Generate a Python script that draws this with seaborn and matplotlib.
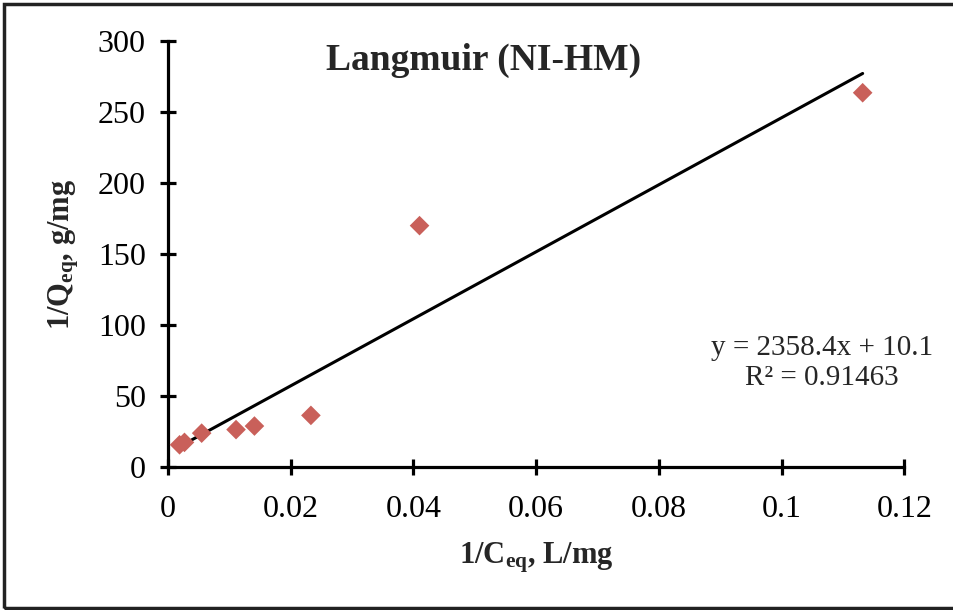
import numpy as np
import pandas as pd
import matplotlib
matplotlib.use("Agg")
import matplotlib.pyplot as plt
from matplotlib.patches import Rectangle
import seaborn as sns

# Langmuir linearisation data: 1/Ceq (L/mg) vs 1/Qeq (g/mg)
inv_ceq = [0.0019, 0.0027, 0.0055, 0.0111, 0.0141, 0.0233, 0.0410, 0.1132]
inv_qeq = [15.8, 17.5, 24.0, 26.5, 29.0, 36.5, 170.0, 263.5]

# Linear trendline reported on the chart
slope = 2358.4
intercept = 10.1
r_squared = 0.91463

x_ticks = [0, 0.02, 0.04, 0.06, 0.08, 0.1, 0.12]
x_tick_labels = ["0", "0.02", "0.04", "0.06", "0.08", "0.1", "0.12"]
y_ticks = [0, 50, 100, 150, 200, 250, 300]

sns.set_theme(style="white")
plt.rcParams["font.family"] = ["Liberation Serif", "DejaVu Serif"]
plt.rcParams["mathtext.fontset"] = "custom"
plt.rcParams["mathtext.rm"] = "Liberation Serif"
plt.rcParams["mathtext.bf"] = "Liberation Serif:bold"
plt.rcParams["mathtext.it"] = "Liberation Serif:italic"

df = pd.DataFrame({"x": inv_ceq, "y": inv_qeq})

fig = plt.figure(figsize=(9.54, 6.10), dpi=100)
ax = fig.add_axes([0.176, 0.234, 0.772, 0.699])

# trendline across the data range
x_fit = np.array([min(inv_ceq), max(inv_ceq)])
fit = pd.DataFrame({"x": x_fit, "y": slope * x_fit + intercept})
sns.lineplot(data=fit, x="x", y="y", ax=ax, color="black", linewidth=2.2, zorder=2)

sns.scatterplot(data=df, x="x", y="y", ax=ax, marker="D", s=100,
                color="#C9605A", edgecolor="none", zorder=3)

ax.set_xlim(0, 0.12)
ax.set_ylim(0, 300)
ax.set_xticks(x_ticks)
ax.set_xticklabels(x_tick_labels)
ax.set_yticks(y_ticks)

for side in ("top", "right"):
    ax.spines[side].set_visible(False)
for side in ("left", "bottom"):
    ax.spines[side].set_linewidth(2.3)
    ax.spines[side].set_color("black")

ax.tick_params(axis="both", which="major", bottom=True, left=True,
               direction="inout", length=12, width=2.3,
               colors="black", labelsize=23)
ax.tick_params(axis="x", pad=14)
ax.tick_params(axis="y", pad=10)

ax.set_xlabel(r"1/C$_{\mathbf{eq}}$, L/mg", fontsize=22, fontweight="bold", labelpad=12)
ax.set_ylabel(r"1/Q$_{\mathbf{eq}}$, g/mg", fontsize=22, fontweight="bold", labelpad=12)

ax.text(0.428, 0.955, "Langmuir (NI-HM)", transform=ax.transAxes, ha="center",
        va="center", fontsize=27, fontweight="bold")

ax.text(0.888, 0.245, f"y = {slope}x + {intercept}\nR\u00b2 = {r_squared}",
        transform=ax.transAxes, ha="center", va="center", fontsize=21,
        linespacing=1.2)

# outer frame of the chart area
fig.patches.append(Rectangle((0.004, 0.004), 1.2, 0.99, transform=fig.transFigure,
                             fill=False, edgecolor="#222222", linewidth=2.5))

fig.savefig("out.png", dpi=100, facecolor="white")
